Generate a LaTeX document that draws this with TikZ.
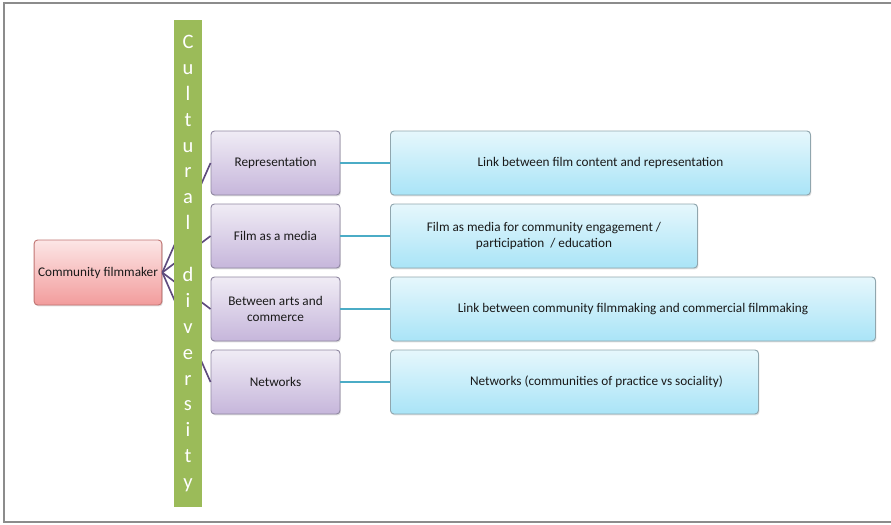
\documentclass[tikz,border=0pt]{standalone}
\usepackage{fontspec}
\setmainfont{Carlito}
\usepackage{xcolor}
\usetikzlibrary{positioning, shadows}

\definecolor{pinktop}{HTML}{FCE6E6}
\definecolor{pinkbot}{HTML}{F29C9C}
\definecolor{pinkline}{HTML}{C07472}
\definecolor{lilactop}{HTML}{F0ECF5}
\definecolor{lilacbot}{HTML}{C6B6DB}
\definecolor{lilacline}{HTML}{9088A2}
\definecolor{skytop}{HTML}{E6F7FC}
\definecolor{skybot}{HTML}{A9E4F7}
\definecolor{skyline}{HTML}{90A6AE}
\definecolor{barGreen}{HTML}{9BBB59}
\definecolor{fanLine}{HTML}{5E4B7D}
\definecolor{tealLine}{HTML}{4BACC6}

\begin{document}
\begin{tikzpicture}[
    box/.style={draw, line width=0.8pt, rounded corners=3pt, align=center,
        font=\fontsize{11.3}{13.2}\selectfont, text=black!90,
        drop shadow={opacity=0.25, shadow xshift=0.8pt, shadow yshift=-1.2pt}},
    maker/.style={box, draw=pinkline, top color=pinktop, bottom color=pinkbot,
        minimum width=3.78cm, minimum height=1.95cm},
    theme/.style={box, draw=lilacline, top color=lilactop, bottom color=lilacbot,
        minimum width=3.87cm, minimum height=1.92cm},
    detail/.style={box, draw=skyline, top color=skytop, bottom color=skybot,
        minimum height=1.92cm, anchor=west},
    fan/.style={draw=fanLine, line width=1.4pt},
    link/.style={draw=tealLine, line width=1.6pt}
]
    \useasboundingbox (0,0) rectangle (26.73,-15.72);
    % Frame
    \draw[gray!90, line width=1.2pt] (26.73,-0.09) -- (0.12,-0.09) -- (0.12,-15.66) -- (26.73,-15.66);

    % Root
    \node[maker] (maker) at (2.94,-8.175) {Community filmmaker};

    % Themes
    \node[theme] (repr) at (8.265,-4.89) {Representation};
    \node[theme] (media) at (8.265,-7.08) {Film as a media};
    \node[theme] (arts) at (8.265,-9.27) {Between arts and\\commerce};
    \node[theme] (netw) at (8.265,-11.46) {Networks};

    % Details
    \node[detail, minimum width=12.6cm] (reprD) at (11.7,-4.89) {Link between film content and representation};
    \node[detail, minimum width=9.21cm] (mediaD) at (11.7,-7.08) {Film as media for community engagement /\\participation \ / education};
    \node[detail, minimum width=14.55cm] (artsD) at (11.7,-9.27) {Link between community filmmaking and commercial filmmaking};
    \node[detail, minimum width=11.04cm] (netwD) at (11.7,-11.46) {\hspace*{1.32cm}Networks (communities of practice vs sociality)};

    % Connectors
    \foreach \t in {repr, media, arts, netw} {
        \draw[fan] (maker.east) -- (\t.west);
        \draw[link] (\t.east) -- (\t D.west);
    }

    % Cultural diversity bar
    \node[fill=barGreen, minimum width=0.84cm, minimum height=14.61cm, inner sep=0pt,
        align=center, text=white, font=\fontsize{17.5}{22.1}\selectfont] (bar) at (5.64,-7.905)
        {C\\u\\l\\t\\u\\r\\a\\l\\~\\d\\i\\v\\e\\r\\s\\i\\t\\y};
\end{tikzpicture}
\end{document}
